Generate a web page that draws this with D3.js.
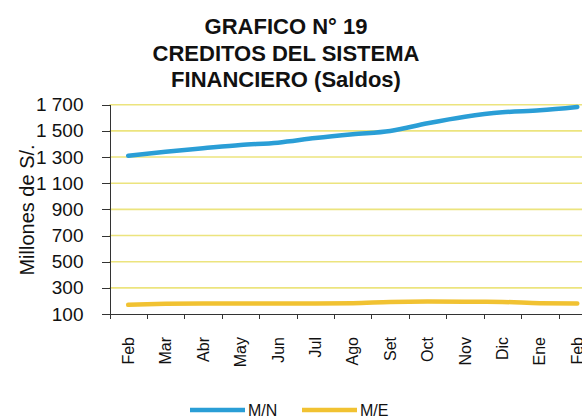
<!DOCTYPE html>
<meta charset="utf-8">
<style>
body {
	margin: 0;
	background-color: #ffffff;
	font-family: "Liberation Sans", Arial, sans-serif;
}
svg { display: block; }
.axis path, .axis line {
	fill: none;
	stroke: #333;
	shape-rendering: crispEdges;
}
.grid line {
	stroke: #ece47e;
	stroke-width: 1.6;
}
</style>
<body>
<script src="https://d3js.org/d3.v7.min.js"></script>
<script>
var width = 582;
var height = 418;

// data
var months = ["Feb", "Mar", "Abr", "May", "Jun", "Jul", "Ago", "Set", "Oct", "Nov", "Dic", "Ene", "Feb"];
var mn = [1310, 1341, 1367, 1392, 1410, 1445, 1474, 1499, 1558, 1608, 1642, 1657, 1683];
var me = [170, 178, 181, 181, 181, 181, 183, 192, 195, 194, 192, 183, 181];
var yTicks = [100, 300, 500, 700, 900, 1100, 1300, 1500, 1700];
var titleLines = ["GRAFICO N° 19", "CREDITOS DEL SISTEMA", "FINANCIERO (Saldos)"];
var series = [
	{name: "M/N", values: mn, color: "#2a9ed6"},
	{name: "M/E", values: me, color: "#f1c232"}
];

var plotLeft = 109.5, plotRight = 596, plotTop = 104.7, plotBottom = 314;

var svg = d3.select("body").append("svg")
	.attr("width", width)
	.attr("height", height);

var x = d3.scaleBand().domain(d3.range(months.length)).range([plotLeft, plotRight]);
var xb = d3.scaleLinear().domain([0, months.length]).range([plotLeft, plotRight]);
var y = d3.scaleLinear().domain([100, 1700]).range([plotBottom, plotTop]);

var fmt = d3.formatLocale({decimal: ",", thousands: " ", grouping: [3], currency: ["", ""]}).format(",d");

// title
svg.append("g").selectAll("text")
	.data(titleLines)
	.enter().append("text")
	.attr("x", 286)
	.attr("y", function(d, i) { return 34 + i * 26.5; })
	.attr("text-anchor", "middle")
	.style("font-size", "22px")
	.style("font-weight", "bold")
	.style("fill", "#111")
	.text(function(d) { return d; });

// gridlines
svg.append("g")
	.attr("class", "grid")
	.selectAll("line")
	.data(yTicks.slice(1))
	.enter().append("line")
	.attr("x1", plotLeft)
	.attr("x2", width)
	.attr("y1", function(d) { return y(d); })
	.attr("y2", function(d) { return y(d); });

// y axis
var yAxis = svg.append("g")
	.attr("class", "axis")
	.attr("transform", "translate(" + plotLeft + ",0)")
	.call(d3.axisLeft(y).tickValues(yTicks).tickSize(8).tickPadding(18).tickFormat(fmt));
yAxis.selectAll("text")
	.style("font-size", "19px")
	.style("font-family", "'Liberation Sans', Arial, sans-serif")
	.style("fill", "#111");

svg.append("text")
	.attr("transform", "translate(34,210) rotate(-90)")
	.attr("text-anchor", "middle")
	.style("font-size", "20px")
	.style("fill", "#111")
	.text("Millones de S/.");

// x axis: ticks on category boundaries
svg.append("g")
	.attr("class", "axis")
	.attr("transform", "translate(0," + plotBottom + ")")
	.call(d3.axisBottom(xb).tickValues(d3.range(months.length + 1)).tickSize(5).tickFormat(""));

var xLab = svg.append("g")
	.attr("class", "axis")
	.attr("transform", "translate(0," + plotBottom + ")")
	.call(d3.axisBottom(x).tickSize(0).tickFormat(function(i) { return months[i]; }));
xLab.select(".domain").remove();
xLab.selectAll("text")
	.attr("transform", "rotate(-90)")
	.attr("text-anchor", "end")
	.attr("x", -23)
	.attr("y", 0)
	.attr("dy", "0.35em")
	.style("font-size", "16px")
	.style("font-family", "'Liberation Sans', Arial, sans-serif")
	.style("fill", "#111");

// lines
var line = d3.line()
	.x(function(d, i) { return x(i) + x.bandwidth() / 2; })
	.y(function(d) { return y(d); })
	.curve(d3.curveMonotoneX);

svg.selectAll(".series")
	.data(series)
	.enter().append("path")
	.attr("class", "series")
	.attr("d", function(d) { return line(d.values); })
	.style("fill", "none")
	.style("stroke", function(d) { return d.color; })
	.style("stroke-width", 4.5)
	.style("stroke-linecap", "round");

// legend
var legX = [190, 302];
var leg = svg.selectAll(".leg")
	.data(series)
	.enter().append("g")
	.attr("class", "leg")
	.attr("transform", function(d, i) { return "translate(" + legX[i] + ",410)"; });
leg.append("line")
	.attr("x1", 0).attr("x2", 55)
	.style("stroke", function(d) { return d.color; })
	.style("stroke-width", 4.5);
leg.append("text")
	.attr("x", 58)
	.attr("y", 6)
	.style("font-size", "16px")
	.style("fill", "#111")
	.text(function(d) { return d.name; });
</script>
</body>
